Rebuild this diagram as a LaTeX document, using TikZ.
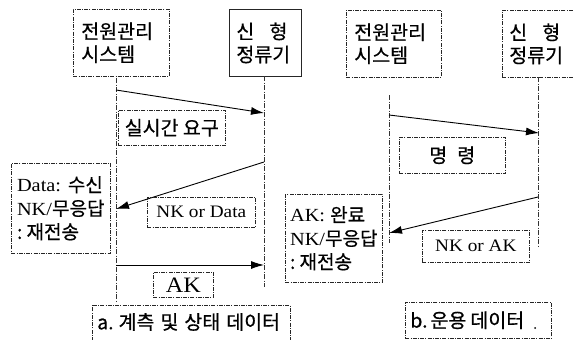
\documentclass[tikz,border=0pt]{standalone}
\usepackage{fontspec}
\setmainfont{Liberation Serif}[FakeStretch=1.1]
\newfontfamily\kr[FakeBold=0.6]{Noto Sans CJK KR}
\usetikzlibrary{arrows.meta}
\tikzset{
  box/.style={draw=black!85, line width=0.6pt, dash pattern=on 4pt off 1.2pt on 1pt off 1.2pt, rectangle, inner sep=0pt, anchor=north west},
  life/.style={draw=black!80, line width=0.5pt, dash pattern=on 5pt off 1.5pt on 1pt off 1.5pt},
  msg/.style={draw=black, line width=0.9pt, -{Latex[length=13pt,width=8pt]}},
  kt/.style={font=\kr\fontsize{19.5}{23}\selectfont},
  lt/.style={font=\fontsize{17.5}{23}\selectfont},
  mt/.style={font=\fontsize{18.5}{23.5}\selectfont},
}
\newcommand\ko[1]{{\kr\fontsize{19}{23}\selectfont #1}}
\begin{document}
\begin{tikzpicture}[x=1pt,y=-1pt]
\useasboundingbox (0,0) rectangle (573,340);
% ---------- panel a ----------
\node[box, minimum width=88pt, minimum height=67pt, text width=80pt, align=left, inner xsep=8pt, kt] (pmsA) at (73,9) {전원관리\\시스템};
\node[box, minimum width=68pt, minimum height=67pt, text width=58pt, align=left, inner xsep=7pt, kt, solid, line width=0.8pt] (recA) at (229,9) {\makebox[51pt][l]{신\hfill 형}\\정류기};
\coordinate (la0) at (116,78);
\coordinate (la1) at (116,302);
\coordinate (ra0) at (264,76);
\coordinate (ra1) at (264,287);
\draw[life] (la0) -- (la1);
\draw[life] (ra0) -- (ra1);
\coordinate (a1s) at (116,90);
\coordinate (a1e) at (264,113);
\draw[msg] (a1s) -- (a1e);
\node[box, minimum width=107pt, minimum height=35pt, kt] (reqA) at (118,110) {실시간 요구};
\node[box, minimum width=99pt, minimum height=90pt, align=left, mt] (dataA) at (11,163) {Data: \ko{수신}\\NK/\ko{무응답}\\\ko{:\ 재전송}};
\coordinate (a2s) at (264,162);
\coordinate (a2e) at (116,209);
\draw[msg] (a2s) -- (a2e);
\node[box, minimum width=108pt, minimum height=30pt, lt] (nkA) at (147,197) {NK or Data};
\coordinate (a3s) at (116,265);
\coordinate (a3e) at (264,265);
\draw[msg] (a3s) -- (a3e);
\node[box, minimum width=60pt, minimum height=25pt, font=\fontsize{22}{22}\selectfont] (akA) at (153,272) {AK};
\node[anchor=west, kt, inner sep=0pt] (capA) at (97,322) {a.\hspace{5pt}계측\hspace{6pt}및\hspace{6pt}상태\hspace{6pt}데이터};
\draw[box] (92,341) -- (92,305) -- (290,305) -- (290,341);
% ---------- panel b ----------
\node[box, minimum width=87pt, minimum height=67pt, text width=79pt, align=left, inner xsep=8pt, kt] (pmsB) at (346,10) {전원관리\\시스템};
\node[box, minimum width=68pt, minimum height=67pt, text width=58pt, align=left, inner xsep=7pt, kt] (recB) at (502,10) {\makebox[51pt][l]{신\hfill 형}\\정류기};
\coordinate (lb0) at (389,95);
\coordinate (lb1) at (389,243);
\coordinate (rb0) at (538,77);
\coordinate (rb1) at (538,248);
\draw[life] (lb0) -- (lb1);
\draw[life] (rb0) -- (rb1);
\coordinate (b1s) at (389,115);
\coordinate (b1e) at (539,133);
\draw[msg] (b1s) -- (b1e);
\node[box, minimum width=106pt, minimum height=36pt, kt] (cmdB) at (399,137) {명\hspace{10pt}령};
\coordinate (b2s) at (538,197);
\coordinate (b2e) at (389,233);
\draw[msg] (b2s) -- (b2e);
\node[box, minimum width=107pt, minimum height=32pt, lt] (nkB) at (422,230) {NK or AK};
\node[box, minimum width=97pt, minimum height=88pt, align=left, mt] (akB) at (285,194) {AK: \ko{완료}\\NK/\ko{무응답}\\\ko{:\ 재전송}};
\node[box, minimum width=143pt, minimum height=36pt, text width=136pt, align=left, inner xsep=5pt, kt] (capB) at (405,302) {b.\hspace{3pt}운용\hspace{4pt}데이터};
\fill (535,328) circle (1pt);
\end{tikzpicture}
\end{document}
